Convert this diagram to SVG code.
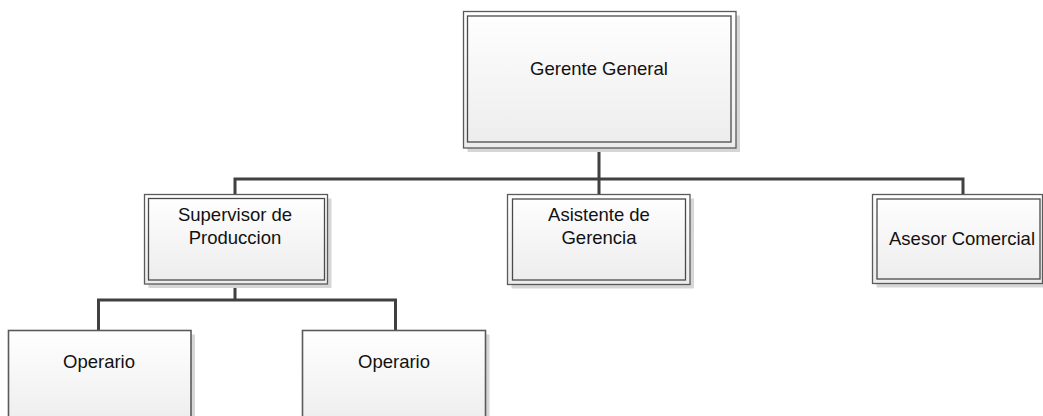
<svg xmlns="http://www.w3.org/2000/svg" width="1043" height="416" viewBox="0 0 1043 416">
<defs>
<linearGradient id="fillg" x1="0" y1="0" x2="0" y2="1">
<stop offset="0" stop-color="#ffffff"/>
<stop offset="1" stop-color="#ececec"/>
</linearGradient>
<style>
.sh{fill:#d6d6d6;stroke:none}
.outer{fill:url(#fillg);stroke:#5a5a5a;stroke-width:1.3}
.inner{fill:none;stroke:#4a4a4a;stroke-width:1.3}
.single{fill:url(#fillg);stroke:#5a5a5a;stroke-width:1.6}
.lbl{font-family:"Liberation Sans",Arial,sans-serif;font-size:18.5px;fill:#111;text-anchor:middle}
.con{fill:none;stroke:#404040;stroke-width:3}
</style>
</defs>
<rect width="1043" height="416" fill="#ffffff"/>
<g id="connectors">
<path class="con" d="M599,148V179M235,194V179H963V194M599,179V194"/>
<path class="con" d="M235,284V300M98.5,331V300H395.5V331"/>
</g>
<g id="gerente">
<rect class="sh" x="467.5" y="15.5" width="272.5" height="136.5"/>
<rect class="outer" x="463.5" y="11.5" width="272.5" height="136.5"/>
<rect class="inner" x="467.5" y="16" width="263.5" height="126"/>
<text class="lbl" x="599" y="75">Gerente General</text>
</g>
<g id="supervisor">
<rect class="sh" x="148.5" y="198.5" width="183" height="89.5"/>
<rect class="outer" x="144.5" y="194.5" width="183" height="89.5"/>
<rect class="inner" x="148.5" y="198.5" width="176" height="81.5"/>
<text class="lbl" x="235" y="221">Supervisor de</text>
<text class="lbl" x="235" y="244">Produccion</text>
</g>
<g id="asistente">
<rect class="sh" x="511.5" y="198.5" width="182.5" height="90"/>
<rect class="outer" x="507.5" y="194.5" width="182.5" height="90"/>
<rect class="inner" x="512.5" y="199" width="173" height="81"/>
<text class="lbl" x="599" y="221">Asistente de</text>
<text class="lbl" x="599" y="244">Gerencia</text>
</g>
<g id="asesor">
<rect class="sh" x="876.5" y="198.5" width="180" height="89"/>
<rect class="outer" x="872.5" y="194.5" width="170" height="89"/>
<rect class="inner" x="877" y="199" width="163" height="80"/>
<text class="lbl" x="962" y="245">Asesor Comercial</text>
</g>
<g id="operario1">
<rect class="sh" x="12.5" y="334.5" width="182.5" height="100"/>
<rect class="single" x="8.5" y="330.5" width="182.5" height="100"/>
<text class="lbl" x="99" y="368">Operario</text>
</g>
<g id="operario2">
<rect class="sh" x="306.5" y="334.5" width="183" height="100"/>
<rect class="single" x="302.5" y="330.5" width="183" height="100"/>
<text class="lbl" x="394" y="368">Operario</text>
</g>
</svg>
